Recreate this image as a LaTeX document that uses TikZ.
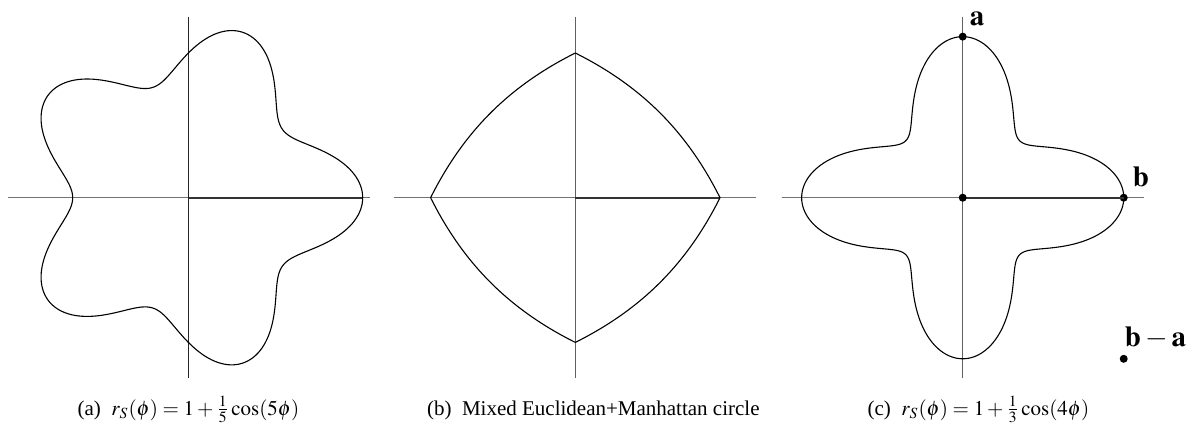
\documentclass[tikz,border=0pt]{standalone}
\usepackage{mathptmx}
\usepackage{fontspec}
\setmainfont{Liberation Serif}
\tikzset{
  axisline/.style={draw=black!55, line width=0.6pt},
  vaxisline/.style={draw=black!62, line width=0.6pt},
  posaxis/.style={draw=black!80, line width=1pt},
  curveline/.style={draw=black, line width=0.55pt, line join=round},
  dotmark/.style={circle, fill=black, draw=none, inner sep=0pt, minimum size=4pt},
  ptlabel/.style={anchor=base west, inner sep=0pt, font=\fontsize{14.5}{17}\selectfont},
  captext/.style={anchor=base, inner sep=0pt, font=\fontsize{10.5}{12.5}\selectfont}
}
\begin{document}
\begin{tikzpicture}[x=0.5pt, y=-0.5pt]
\useasboundingbox (0,0) rectangle (1186,425);

% ---------- panel (a)
\coordinate (oa) at (188.7,197.7);
\coordinate (aL) at (7.7,197.7);
\coordinate (aR) at (369.7,197.7);
\coordinate (aT) at (188.7,16.7);
\coordinate (aB) at (188.7,378.3);
\coordinate (aX) at (362.7,197.7);
\draw[axisline] (aL) -- (aR);
\draw[vaxisline, draw=black!85] (aT) -- (aB);
\draw[posaxis] (oa) -- (aX);
\begin{scope}[shift={(188.7,197.7)}]
  \draw[curveline] plot[domain=0:360, samples=361, smooth cycle]
    ({145*(1+0.2*cos(5*\x))*cos(\x)}, {145*(1+0.2*cos(5*\x))*sin(\x)});
\end{scope}
\node[captext] (capa) at (188.5,415) {(a)\enspace$r_S(\phi) = 1 + \frac{1}{5}\cos(5\phi)$};

% ---------- panel (b)
\coordinate (ob) at (575.3,197.7);
\coordinate (bL) at (394.3,197.7);
\coordinate (bR) at (756.3,197.7);
\coordinate (bT) at (575.3,16.7);
\coordinate (bB) at (575.3,378.3);
\coordinate (bX) at (720,197.7);
\draw[axisline] (bL) -- (bR);
\draw[vaxisline] (bT) -- (bB);
\draw[posaxis] (ob) -- (bX);
\begin{scope}[shift={(575.3,197.7)}]
  \draw[curveline] plot[domain=0:360, samples=721]
    ({144.7*2/(abs(cos(\x))+abs(sin(\x))+1)*cos(\x)}, {144.7*2/(abs(cos(\x))+abs(sin(\x))+1)*sin(\x)}) -- cycle;
\end{scope}
\node[captext] (capb) at (593.3,415) {(b)\enspace Mixed Euclidean+Manhattan circle};

% ---------- panel (c)
\coordinate (oc) at (962.7,197.7);
\coordinate (cL) at (781.7,197.7);
\coordinate (cR) at (1143.7,197.7);
\coordinate (cT) at (962.7,16.7);
\coordinate (cB) at (962.7,378.3);
\draw[axisline] (cL) -- (cR);
\draw[vaxisline] (cT) -- (cB);
\begin{scope}[shift={(962.7,197.7)}]
  \draw[curveline] plot[domain=0:360, samples=361, smooth cycle]
    ({120.8*(1+cos(4*\x)/3)*cos(\x)}, {120.8*(1+cos(4*\x)/3)*sin(\x)});
\end{scope}
\node[dotmark] (pb) at (1123.7,197.7) {};
\draw[posaxis] (oc) -- (pb.center);
\node[dotmark] (po) at (oc) {};
\node[dotmark] (pa) at (962.7,36.6) {};
\node[dotmark] (pba) at (1123.7,358.8) {};
\node[ptlabel] (la) at (969.5,25.5) {$\mathbf{a}$};
\node[ptlabel] (lb) at (1132.5,186) {$\mathbf{b}$};
\node[ptlabel] (lba) at (1124.5,346) {$\mathbf{b}-\mathbf{a}$};
\node[captext] (capc) at (978.5,415) {(c)\enspace$r_S(\phi) = 1 + \frac{1}{3}\cos(4\phi)$};
\end{tikzpicture}
\end{document}
